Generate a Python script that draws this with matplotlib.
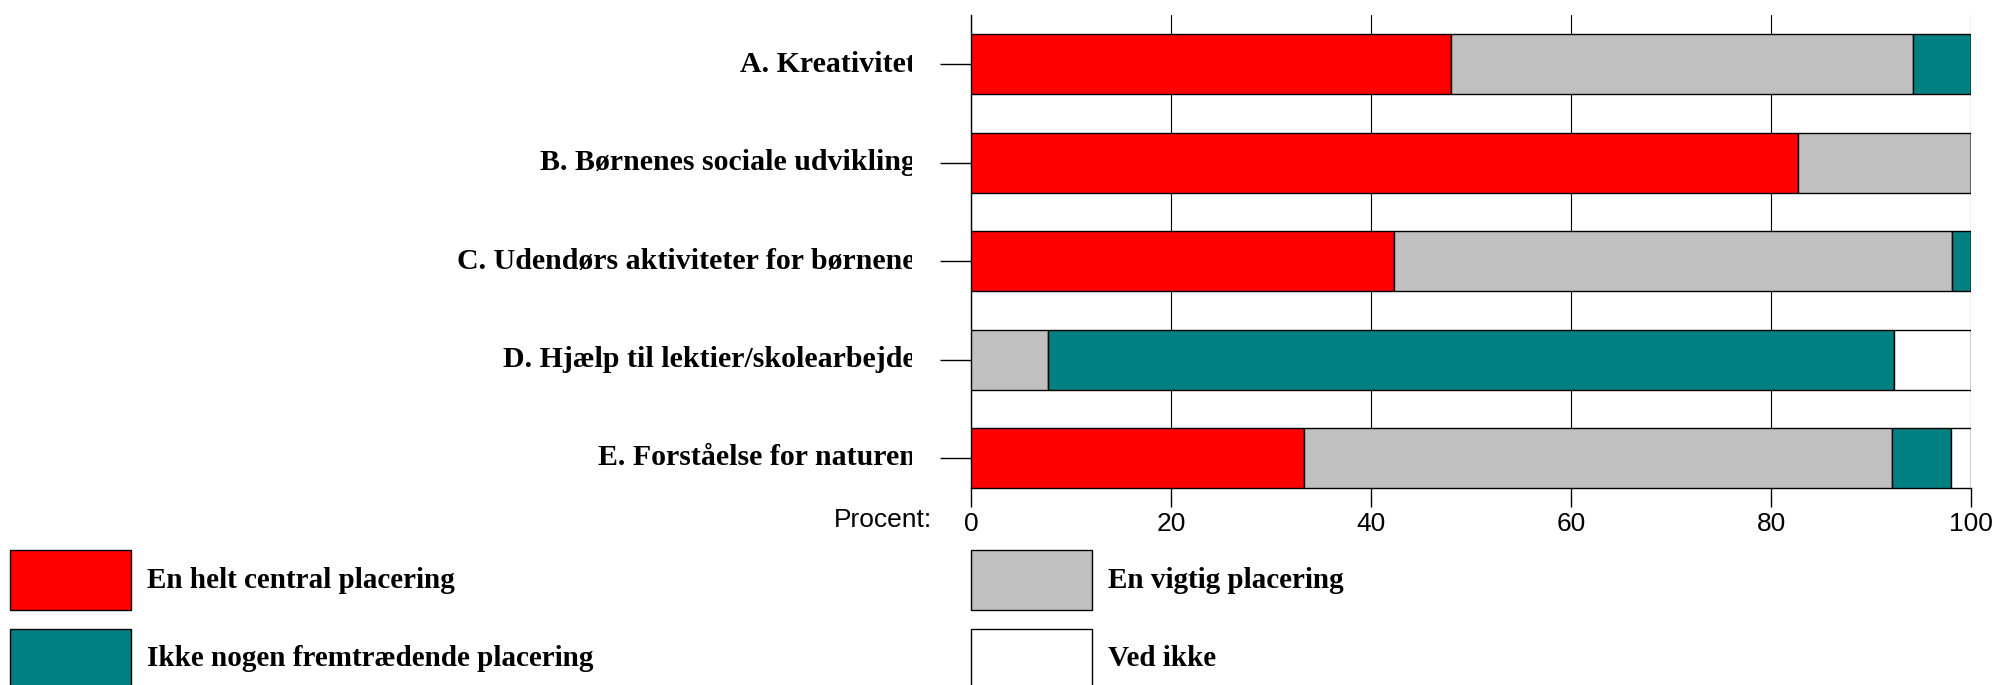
import matplotlib.pyplot as plt
from matplotlib.patches import Rectangle
from matplotlib.transforms import Bbox, TransformedBbox

categories = ["A. Kreativitet", "B. Børnenes sociale udvikling",
              "C. Udendørs aktiviteter for børnene",
              "D. Hjælp til lektier/skolearbejde", "E. Forståelse for naturen"]
series = ["En helt central placering", "En vigtig placering",
          "Ikke nogen fremtrædende placering", "Ved ikke"]
colors = ["#FF0000", "#C0C0C0", "#008080", "#FFFFFF"]

central = [48.0, 82.7, 42.3, 0.0, 33.3]
vigtig = [46.2, 17.3, 55.8, 7.7, 58.8]
ikke_nogen = [5.8, 0.0, 1.9, 84.6, 5.9]
ved_ikke = [0.0, 0.0, 0.0, 7.7, 2.0]
values = [central, vigtig, ikke_nogen, ved_ikke]
xticks = [0, 20, 40, 60, 80, 100]

W, H = 1999, 685
fig = plt.figure(figsize=(W / 100, H / 100), dpi=100)
serif = "Liberation Serif"
sans = "Liberation Sans"


def fx(px):
    return px / W


def fy(py):
    return 1 - py / H


# axes box in pixels: x 971..1971, y 15..488
ax = fig.add_axes([fx(971), fy(488), fx(1000), 473 / H])

ypos = list(range(len(categories)))
left = [0.0] * len(categories)
for vals, col in zip(values, colors):
    ax.barh(ypos, vals, left=left, height=0.61, color=col,
            edgecolor="black", linewidth=1.0, zorder=3)
    left = [l + v for l, v in zip(left, vals)]

ax.set_xlim(0, 100)
ax.set_ylim(4.305, -0.5)
ax.set_xticks(xticks)
ax.set_xticklabels([str(t) for t in xticks], fontfamily=sans, fontsize=19)
ax.set_yticks(ypos)
ax.set_yticklabels([""] * len(ypos))
ax.tick_params(axis="x", length=14, width=1, color="black", pad=3)
ax.tick_params(axis="y", length=22, width=1, color="black")
ax.xaxis.grid(True, color="black", linewidth=0.8, zorder=0)
ax.set_axisbelow(True)
for side in ["top", "right"]:
    ax.spines[side].set_visible(False)
for side in ["left", "bottom"]:
    ax.spines[side].set_linewidth(1.0)
    ax.spines[side].set_color("black")

# category labels, clipped on the right as in the original
clip = TransformedBbox(Bbox([[0, 0], [fx(912), 1]]), fig.transFigure)
for y, lab in zip(ypos, categories):
    t = ax.text(-0.055, y, lab, transform=ax.get_yaxis_transform(),
                ha="right", va="center", fontfamily=serif,
                fontweight="bold", fontsize=21.5)
    t.set_clip_box(clip)
    t.set_clip_on(True)

fig.text(fx(932), fy(520), "Procent:", ha="right", va="center",
         fontfamily=sans, fontsize=19)

# legend: two columns, two rows
cols_x = [10, 971]
rows_y = [550, 629]
order = [(0, 0), (1, 0), (0, 1), (1, 1)]  # (col, row) per series
for name, col, (c, r) in zip(series, colors, order):
    x0, y0 = cols_x[c], rows_y[r]
    fig.add_artist(Rectangle((fx(x0), fy(y0 + 60)), fx(121), 60 / H,
                             transform=fig.transFigure, facecolor=col,
                             edgecolor="black", linewidth=1.0))
    fig.text(fx(x0 + 137), fy(y0 + 30), name, ha="left", va="center",
             fontfamily=serif, fontweight="bold", fontsize=21)

fig.savefig("out.png", dpi=100)
